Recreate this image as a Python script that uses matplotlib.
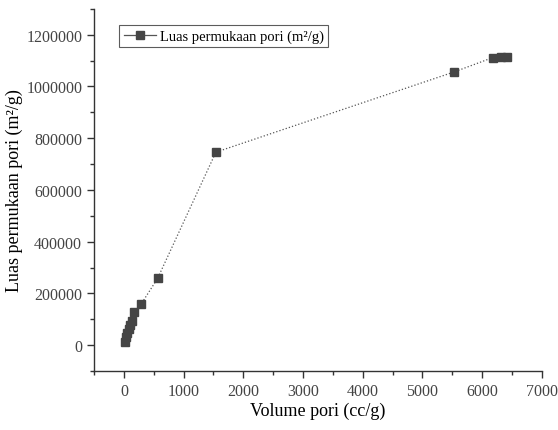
import matplotlib
matplotlib.use("Agg")
import matplotlib.pyplot as plt
from matplotlib.ticker import MultipleLocator, StrMethodFormatter

# data
volume_pori = [17, 33, 55, 79, 100, 129, 172, 290, 565, 1541, 5528, 6181, 6315, 6410]
luas_permukaan = [12800, 29800, 46500, 62000, 78600, 94000, 126600, 158700,
                  258000, 746000, 1056000, 1112000, 1113000, 1113000]

plt.rcParams['font.family'] = ['Liberation Serif', 'DejaVu Serif']

fig = plt.figure(figsize=(5.58, 4.31), dpi=100)
ax = fig.add_axes([0.1685, 0.137, 0.8025, 0.84])

ax.plot(volume_pori, luas_permukaan, color='#555555', linestyle=':', linewidth=0.9,
        marker='s', markersize=6, markerfacecolor='#454545', markeredgecolor='#454545',
        label='Luas permukaan pori (m\u00b2/g)')

ax.set_xlim(-500, 7000)
ax.set_ylim(-100000, 1300000)
ax.xaxis.set_major_locator(MultipleLocator(1000))
ax.xaxis.set_minor_locator(MultipleLocator(500))
ax.yaxis.set_major_locator(MultipleLocator(200000))
ax.yaxis.set_minor_locator(MultipleLocator(100000))
ax.yaxis.set_major_formatter(StrMethodFormatter('{x:.0f}'))

for s in ['top', 'right']:
    ax.spines[s].set_visible(False)
for s in ['left', 'bottom']:
    ax.spines[s].set_color('#333333')
    ax.spines[s].set_linewidth(1.0)

ax.tick_params(which='major', direction='out', length=5, width=1, colors='#333333',
               labelsize=11.5, labelcolor='#444444')
ax.tick_params(which='minor', direction='out', length=3, width=1, colors='#333333')

ax.set_xlabel('Volume pori (cc/g)', fontsize=13, labelpad=2)
ax.set_ylabel('Luas permukaan pori (m\u00b2/g)', fontsize=13, labelpad=2)

leg = ax.legend(loc='upper left', bbox_to_anchor=(0.04, 0.975), fontsize=10.5,
                frameon=True, fancybox=False, handlelength=2.2, borderpad=0.3,
                handletextpad=0.3)
leg.get_frame().set_edgecolor('#333333')
leg.get_frame().set_linewidth(0.8)
leg.get_lines()[0].set_linestyle('-')

fig.savefig('out.png', dpi=100)
